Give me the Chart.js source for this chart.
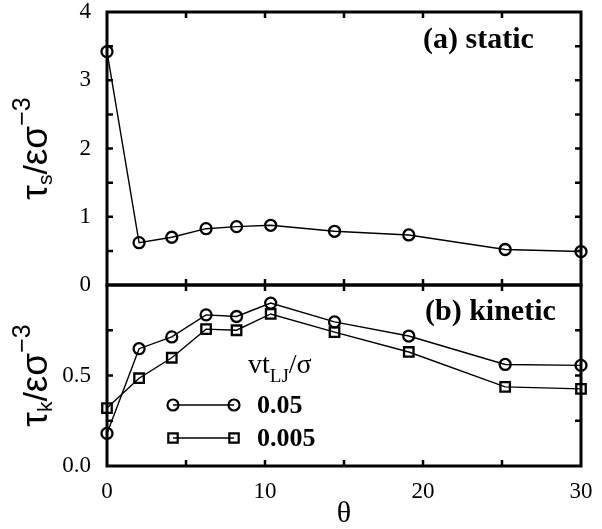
<!DOCTYPE html>
<html><head><meta charset="utf-8">
<script src="https://cdn.jsdelivr.net/npm/chart.js@4.4.1/dist/chart.umd.min.js"></script>
<style>
html,body{margin:0;padding:0;background:#fff;}
#wrap{position:relative;width:602px;height:529px;overflow:hidden;background:#fff;}
#wrap canvas{position:absolute;left:0;}
#ca{top:0;}
#cb{top:270px;}
</style></head><body>
<div id="wrap"><canvas id="ca" width="602" height="300"></canvas><canvas id="cb" width="602" height="259"></canvas></div>
<script>
// ---- data ----
const theta = [0, 2.03, 4.1, 6.27, 8.2, 10.36, 14.4, 19.1, 25.2, 30];
const tauStatic = [3.42, 0.62, 0.70, 0.825, 0.855, 0.875, 0.787, 0.733, 0.52, 0.49];
const tauKinetic005 = [0.18, 0.648, 0.713, 0.835, 0.826, 0.90, 0.796, 0.718, 0.561, 0.556];
const tauKinetic0005 = [0.32, 0.485, 0.598, 0.756, 0.75, 0.84, 0.74, 0.63, 0.437, 0.426];
const seriesLabels = ['0.05', '0.005'];
const xTickLabels = [0, 10, 20, 30];
const xTickMarks = [5, 10, 15, 20, 25];
const yTopTickLabels = [0, 1, 2, 3, 4];
const yTopTickMarks = [0.5, 1, 1.5, 2, 2.5, 3, 3.5];
const yBotTickLabels = [0, 0.5];
const yBotTickMarks = [0.25, 0.5, 0.75];

const SERIF = '"Liberation Serif", "Times New Roman", serif';
const SANS = '"Liberation Sans", Arial, sans-serif';
const pts = (ys) => theta.map((x, i) => ({x, y: ys[i]}));

function frameAndTicks(chart, xMarks, yMarks) {
  const {ctx, chartArea: a, scales} = chart;
  ctx.save();
  ctx.strokeStyle = '#000';
  ctx.lineWidth = 2.5;
  const L = 6;
  ctx.beginPath();
  xMarks.forEach(v => {
    const px = scales.x.getPixelForValue(v);
    ctx.moveTo(px, a.top); ctx.lineTo(px, a.top + L);
    ctx.moveTo(px, a.bottom); ctx.lineTo(px, a.bottom - L);
  });
  yMarks.forEach(v => {
    const py = scales.y.getPixelForValue(v);
    ctx.moveTo(a.left, py); ctx.lineTo(a.left + L, py);
    ctx.moveTo(a.right, py); ctx.lineTo(a.right - L, py);
  });
  ctx.stroke();
  ctx.lineWidth = 3;
  ctx.strokeRect(a.left, a.top, a.right - a.left, a.bottom - a.top);
  ctx.restore();
}

function rotTitle(ctx, baseX, cy, sub) {
  const pieces = [
    {t: 'τ', f: '37px ' + SANS, dy: 0},
    {t: sub, f: '21px ' + SANS, dy: 5},
    {t: '/', f: '34px ' + SANS, dy: 0},
    {t: 'εσ', f: '37px ' + SANS, dy: 0},
    {t: '−3', f: '25px ' + SANS, dy: -17}
  ];
  let total = 0;
  pieces.forEach(p => { ctx.font = p.f; p.w = ctx.measureText(p.t).width; total += p.w; });
  ctx.save();
  ctx.translate(baseX, cy);
  ctx.rotate(-Math.PI / 2);
  ctx.fillStyle = '#000';
  ctx.textBaseline = 'alphabetic';
  ctx.textAlign = 'left';
  let x = -total / 2;
  pieces.forEach(p => { ctx.font = p.f; ctx.fillText(p.t, x, p.dy); x += p.w; });
  ctx.restore();
}

const topPlugin = {
  id: 'topDeco',
  afterDatasetsDraw(chart) {
    const {ctx, chartArea: a} = chart;
    frameAndTicks(chart, xTickMarks, yTopTickMarks);
    ctx.save();
    ctx.fillStyle = '#000';
    ctx.font = 'bold 30px ' + SERIF;
    ctx.textBaseline = 'alphabetic';
    ctx.fillText('(a) static', a.left + 316, a.top + 36);
    ctx.restore();
    rotTitle(ctx, 47, (a.top + a.bottom) / 2, 's');
  }
};

const botPlugin = {
  id: 'botDeco',
  afterDatasetsDraw(chart) {
    const {ctx, chartArea: a} = chart;
    frameAndTicks(chart, xTickMarks, yBotTickMarks);
    ctx.save();
    ctx.fillStyle = '#000';
    ctx.strokeStyle = '#000';
    ctx.font = 'bold 30px ' + SERIF;
    ctx.textBaseline = 'alphabetic';
    ctx.fillText('(b) kinetic', a.left + 318, a.top + 35);
    // legend title
    let x = a.left + 141, y = a.top + 88;
    ctx.font = '28px ' + SERIF;
    ctx.fillText('vt', x, y); x += ctx.measureText('vt').width;
    ctx.font = '19px ' + SERIF;
    ctx.fillText('LJ', x, y + 9); x += ctx.measureText('LJ').width;
    ctx.font = '28px ' + SERIF;
    ctx.fillText('/σ', x, y);
    // legend entries
    const x1 = a.left + 66, x2 = a.left + 127;
    const rows = [{y: a.top + 120, s: 'circle'}, {y: a.top + 153, s: 'rect'}];
    rows.forEach((r, i) => {
      ctx.lineWidth = 1.4;
      ctx.beginPath(); ctx.moveTo(x1, r.y); ctx.lineTo(x2, r.y); ctx.stroke();
      ctx.lineWidth = 2.2;
      [x1, x2].forEach(px => {
        ctx.beginPath();
        if (r.s === 'circle') ctx.arc(px, r.y, 5.5, 0, Math.PI * 2);
        else ctx.rect(px - 4.7, r.y - 4.7, 9.4, 9.4);
        ctx.stroke();
      });
      ctx.font = 'bold 26px ' + SERIF;
      ctx.fillText(seriesLabels[i], a.left + 150, r.y + 8);
    });
    ctx.restore();
    rotTitle(ctx, 47, (a.top + a.bottom) / 2, 'k');
  }
};

const tickFont = {family: SERIF, size: 23, lineHeight: 1};
const dsBase = {borderColor: '#000', borderWidth: 1.4, backgroundColor: 'transparent',
  pointBorderColor: '#000', pointBackgroundColor: 'transparent', pointBorderWidth: 2.3,
  clip: false, tension: 0};

function fixY(width) {
  return s => { s.width = width; s.paddingTop = 0; s.paddingBottom = 0; };
}

new Chart(document.getElementById('ca'), {
  type: 'line',
  data: {datasets: [Object.assign({}, dsBase, {label: 'static', data: pts(tauStatic), pointStyle: 'circle', pointRadius: 5.5})]},
  options: {
    responsive: false, animation: false, devicePixelRatio: 1,
    layout: {padding: {left: 0, right: 21, top: 12, bottom: 0}},
    plugins: {legend: {display: false}, tooltip: {enabled: false}},
    scales: {
      x: {type: 'linear', min: 0, max: 30, ticks: {display: false}, grid: {display: false}, border: {display: false},
          afterFit: s => { s.height = 15; s.paddingLeft = 0; s.paddingRight = 0; }},
      y: {min: 0, max: 4, grid: {display: false, drawTicks: false}, border: {display: false},
          ticks: {font: tickFont, color: '#000', padding: 16},
          afterBuildTicks: s => { s.ticks = yTopTickLabels.map(v => ({value: v})); },
          afterFit: fixY(107)}
    }
  },
  plugins: [topPlugin]
});

new Chart(document.getElementById('cb'), {
  type: 'line',
  data: {datasets: [
    Object.assign({}, dsBase, {label: seriesLabels[0], data: pts(tauKinetic005), pointStyle: 'circle', pointRadius: 5.5}),
    Object.assign({}, dsBase, {label: seriesLabels[1], data: pts(tauKinetic0005), pointStyle: 'rect', pointRadius: 6.7})
  ]},
  options: {
    responsive: false, animation: false, devicePixelRatio: 1,
    layout: {padding: {left: 0, right: 21, top: 15, bottom: 0}},
    plugins: {legend: {display: false}, tooltip: {enabled: false}},
    scales: {
      x: {type: 'linear', min: 0, max: 30, grid: {display: false, drawTicks: false}, border: {display: false},
          ticks: {font: tickFont, color: '#000', padding: 14, maxRotation: 0},
          afterBuildTicks: s => { s.ticks = xTickLabels.map(v => ({value: v})); },
          title: {display: true, text: 'θ', font: {family: SERIF, size: 30, lineHeight: 1}, color: '#000', padding: {top: 0, bottom: 0}},
          afterFit: s => { s.height = 63; s.paddingLeft = 0; s.paddingRight = 0; }},
      y: {min: 0, max: 1, grid: {display: false, drawTicks: false}, border: {display: false},
          ticks: {font: tickFont, color: '#000', padding: 16, callback: v => Number(v).toFixed(1)},
          afterBuildTicks: s => { s.ticks = yBotTickLabels.map(v => ({value: v})); },
          afterFit: fixY(107)}
    }
  },
  plugins: [botPlugin]
});
</script>
</body></html>
